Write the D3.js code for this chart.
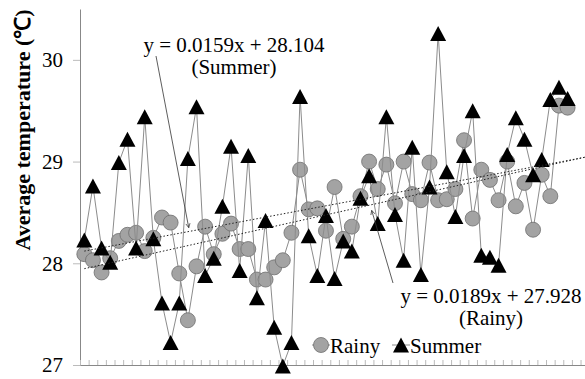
<!DOCTYPE html>
<html>
<head>
<meta charset="utf-8">
<script src="https://cdn.jsdelivr.net/npm/d3@7"></script>
<style>
  body { margin: 0; background: #fff; }
  svg { display: block; }
</style>
</head>
<body>
<div id="chart"></div>
<script>
// values, one per category (1..57)
const rainy = [28.09, 28.03, 27.91, 28.05, 28.22, 28.28, 28.30, 28.12, 28.25, 28.45,
  28.40, 27.90, 27.44, 27.97, 28.36, 28.09, 28.29, 28.39, 28.14, 28.14,
  27.84, 27.84, 27.96, 28.03, 28.30, 28.92, 28.53, 28.54, 28.32, 28.75,
  28.24, 28.36, 28.66, 29.00, 28.73, 28.97, 28.59, 29.00, 28.68, 28.62,
  28.99, 28.62, 28.63, 28.73, 29.21, 28.44, 28.92, 28.82, 28.62, 29.00,
  28.56, 28.79, 28.33, 28.87, 28.66, 29.55, 29.53];
const summer = [28.23, 28.76, 28.15, 28.01, 28.99, 29.22, 28.15, 29.44, 28.24, 27.61,
  27.22, 27.61, 29.03, 29.54, 27.88, 28.05, 28.56, 29.15, 27.93, 29.06,
  27.66, 28.42, 27.37, 26.99, 27.22, 29.64, 28.27, 27.88, 28.47, 27.85,
  28.22, 28.12, 28.64, 28.86, 28.39, 29.44, 28.48, 28.03, 29.14, 27.89,
  28.75, 30.26, 28.90, 28.46, 29.06, 29.50, 28.08, 28.06, 27.98, 29.07,
  29.43, 29.22, 28.87, 29.02, 29.61, 29.73, 29.62];
const yTicks = [27, 28, 29, 30];
const seriesNames = ['Rainy', 'Summer'];
const trendNames = ['Summer', 'Rainy'];
const trendSlopes = [0.0159, 0.0189];
const trendIntercepts = [28.104, 27.928];
// where each leader arrow points, in data units
const arrowTips = [[13.1, 28.35], [34.3, 28.52]];

const width = 585, height = 379;
const margin = { top: 9, left: 80, bottom: 14 };
const catWidth = 8.63;
const nCats = 62; // axis keeps going past the right edge of the picture
const fontFam = '"Liberation Serif", monospace';

const svg = d3.select('#chart').append('svg')
  .attr('width', width)
  .attr('height', height);

const x = d3.scaleLinear()
  .domain([0.5, nCats + 0.5])
  .range([margin.left, margin.left + nCats * catWidth]);
const y = d3.scaleLinear()
  .domain([27, 30.5])
  .range([height - margin.bottom, margin.top]);

svg.append('defs').append('marker')
  .attr('id', 'arrow')
  .attr('viewBox', '0 0 8 8')
  .attr('refX', 7).attr('refY', 4)
  .attr('markerWidth', 7).attr('markerHeight', 7)
  .attr('orient', 'auto')
  .append('path')
  .attr('d', 'M1,1 L7,4 L1,7')
  .attr('fill', 'none')
  .attr('stroke', '#333')
  .attr('stroke-width', 1);

// y axis
const yAxis = svg.append('g')
  .attr('transform', `translate(${margin.left},0)`)
  .call(d3.axisLeft(y).tickValues(yTicks).tickFormat(d3.format('d'))
    .tickSize(7).tickSizeOuter(0).tickPadding(10));
yAxis.select('.domain').attr('stroke', '#888');
yAxis.selectAll('.tick line').attr('stroke', '#bbb');
yAxis.selectAll('.tick text')
  .attr('fill', '#000')
  .style('font-family', fontFam)
  .style('font-size', '21px');

// x axis, ticks between categories, no labels
const xTicks = d3.range(0, nCats + 1).map(k => k + 0.5);
const xAxis = svg.append('g')
  .attr('transform', `translate(0,${y(27)})`)
  .call(d3.axisBottom(x).tickValues(xTicks).tickSize(-5).tickSizeOuter(0).tickFormat(''));
xAxis.select('.domain').attr('stroke', '#888');
xAxis.selectAll('.tick line').attr('stroke', '#bbb');

const line = d3.line()
  .x((d, i) => x(i + 1))
  .y(d => y(d));

const triangle = 'M0,-7.5 L8,7.5 L-8,7.5 Z';

// Rainy
svg.append('path')
  .datum(rainy)
  .attr('d', line)
  .attr('fill', 'none')
  .attr('stroke', '#8c8c8c')
  .attr('stroke-width', 1);
svg.selectAll('.rainy')
  .data(rainy)
  .enter()
  .append('circle')
  .attr('class', 'rainy')
  .attr('cx', (d, i) => x(i + 1))
  .attr('cy', d => y(d))
  .attr('r', 7.5)
  .attr('fill', '#a3a3a3')
  .attr('stroke', '#6e6e6e')
  .attr('stroke-width', 0.8);

// Summer
svg.append('path')
  .datum(summer)
  .attr('d', line)
  .attr('fill', 'none')
  .attr('stroke', '#8c8c8c')
  .attr('stroke-width', 1);
svg.selectAll('.summer')
  .data(summer)
  .enter()
  .append('path')
  .attr('class', 'summer')
  .attr('transform', (d, i) => `translate(${x(i + 1)},${y(d)})`)
  .attr('d', triangle)
  .attr('fill', '#000');

// trendlines
trendNames.forEach((name, k) => {
  const f = t => trendIntercepts[k] + trendSlopes[k] * t;
  svg.append('line')
    .attr('x1', x(1)).attr('y1', y(f(1)))
    .attr('x2', x(nCats)).attr('y2', y(f(nCats)))
    .attr('stroke', '#222')
    .attr('stroke-width', 1)
    .attr('stroke-dasharray', '1.5,2');
});

// trendline labels with leader arrows
const labels = [
  { cx: 234, by: 52, from: [156, 56] },
  { cx: 491, by: 303, from: [393, 283] }
];
trendNames.forEach((name, k) => {
  const lab = labels[k];
  svg.append('text')
    .attr('x', lab.cx).attr('y', lab.by)
    .attr('text-anchor', 'middle')
    .style('font-family', fontFam)
    .style('font-size', '21px')
    .text(`y = ${trendSlopes[k]}x + ${trendIntercepts[k].toFixed(3)}`);
  svg.append('text')
    .attr('x', lab.cx).attr('y', lab.by + 22)
    .attr('text-anchor', 'middle')
    .style('font-family', fontFam)
    .style('font-size', '21px')
    .text(`(${name})`);
  svg.append('line')
    .attr('x1', lab.from[0]).attr('y1', lab.from[1])
    .attr('x2', x(arrowTips[k][0])).attr('y2', y(arrowTips[k][1]))
    .attr('stroke', '#333')
    .attr('stroke-width', 0.8)
    .attr('marker-end', 'url(#arrow)');
});

// y axis title
svg.append('text')
  .attr('transform', 'translate(30,130) rotate(-90)')
  .attr('text-anchor', 'middle')
  .style('font-family', fontFam)
  .style('font-size', '22px')
  .style('font-weight', 'bold')
  .text('Average temperature (℃)');

// legend
const legendX = [321, 401];
seriesNames.forEach((name, k) => {
  const g = svg.append('g').attr('transform', `translate(${legendX[k]},345)`);
  g.append('line')
    .attr('x1', -9).attr('x2', 9)
    .attr('stroke', '#8c8c8c');
  if (k === 0) {
    g.append('circle')
      .attr('r', 7.5)
      .attr('fill', '#a3a3a3')
      .attr('stroke', '#6e6e6e')
      .attr('stroke-width', 0.8);
  } else {
    g.append('path').attr('d', triangle).attr('fill', '#000');
  }
  g.append('text')
    .attr('x', 9).attr('y', 7.5)
    .style('font-family', fontFam)
    .style('font-size', '21px')
    .text(name);
});
</script>
</body>
</html>
